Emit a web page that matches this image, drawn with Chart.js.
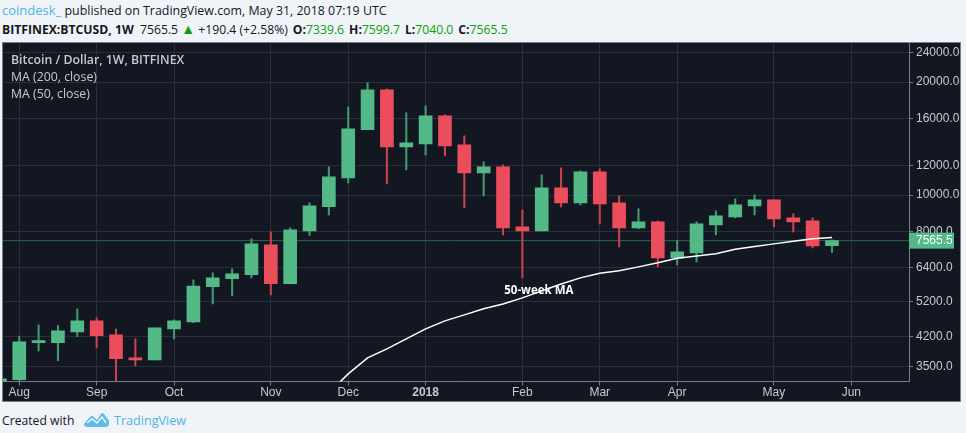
<!DOCTYPE html>
<html>
<head>
<meta charset="utf-8">
<title>BTCUSD 1W</title>
<script src="https://cdn.jsdelivr.net/npm/chart.js@4"></script>
<style>
    html, body { margin: 0; padding: 0; background: #f0f3f8; overflow: hidden; }
    body { width: 966px; height: 433px; position: relative; font-family: "Open Sans", sans-serif; color: #131722; }
    .line { position: absolute; left: 2px; white-space: nowrap; font-size: 12.2px; line-height: 17px; }
    .up { color: #0aa00a; }
    .blue { color: #4cb3e6; }
    #frame { position: absolute; left: 2px; top: 42px; width: 957px; height: 358px; border: 1px solid #7b7e88; background: #131722; }
    #chart { display: block; }
    .legend { position: absolute; left: 8px; color: #c5cbce; font-size: 12.3px; white-space: nowrap; }
    .gap { margin-left: 5px; }
</style>
</head>
<body>
<div class="line" style="top:2px;font-size:12.4px"><span class="blue" style="font-size:13px">coindesk_</span> published on TradingView.com, May 31, 2018 07:19 UTC</div>
<div class="line" style="top:20px"><b>BITFINEX:BTCUSD, 1W</b> &nbsp;7565.5 <span class="up" style="font-size:14px">▲</span> +190.4 (+2.58%)<b class="gap">O:</b><span class="up">7339.6</span><b class="gap">H:</b><span class="up">7599.7</span><b class="gap">L:</b><span class="up">7040.0</span><b class="gap">C:</b><span class="up">7565.5</span></div>
<div id="frame">
    <canvas id="chart" width="957" height="358"></canvas>
    <div class="legend" style="top:8px;font-weight:600">Bitcoin / Dollar, 1W, BITFINEX</div>
    <div class="legend" style="top:25px">MA (200, close)</div>
    <div class="legend" style="top:42px">MA (50, close)</div>
</div>
<div class="line" style="top:412px">Created with</div>
<svg style="position:absolute;left:84px;top:411px" width="25" height="17" viewBox="0 0 25 17">
    <path d="M0 13 L6 6 Q8 4 10 6 L13 9 L17 3 Q18 1 20 3 L25 10 L25 13 Q25 16 21 16 L4 16 Q0 16 0 13 Z" fill="#5cbce9"/>
    <path d="M3 12 L8 8 L13 12 L18 6 L22 12" fill="none" stroke="#f0f3f8" stroke-width="1.5"/>
</svg>
<div class="line blue" style="top:412px;left:114px;font-size:12.6px">TradingView</div>

<script>
// Bougies hebdomadaires, la premiere est presque hors cadre a gauche
const opens = [3150, 3227, 4049, 4049, 4324, 4626, 4244, 3686, 3642, 4404, 4597, 5705, 5995, 6145, 7370, 5815, 8034, 9318, 11120, 14927, 19077, 13447, 13696, 16260, 13615, 11465, 11894, 8232, 8034, 10457, 9538, 11537, 9538, 8182, 8490, 6807, 7019, 8334, 8752, 9360, 9716, 8700, 8542, 7339.6];
const highs = [3241, 4216, 4514, 4492, 4980, 4711, 4404, 4142, 4431, 4654, 5948, 6209, 6364, 7649, 7985, 8182, 9538, 11894, 17180, 19895, 19195, 16566, 17280, 16360, 14390, 12268, 12040, 9138, 11330, 11820, 11608, 11750, 9955, 9194, 8542, 7556, 8490, 9082, 9775, 10020, 9716, 8920, 8700, 7599.7];
const lows = [3100, 3207, 3848, 3626, 4200, 3920, 3207, 3512, 3642, 4142, 4578, 5133, 5390, 6021, 5424, 5800, 7810, 8862, 10783, 14927, 10716, 11679, 12800, 12720, 9250, 9950, 7836, 6021, 8034, 9304, 9420, 8385, 7280, 8132, 6441, 6520, 6643, 7836, 8700, 8862, 8232, 7985, 7235, 7040];
const closes = [3241, 4067, 4099, 4350, 4626, 4226, 3671, 3642, 4431, 4626, 5728, 6021, 6170, 7416, 5815, 8083, 9360, 11186, 15018, 19077, 13447, 13780, 16260, 13530, 11465, 11894, 8182, 8034, 10457, 9538, 11537, 9478, 8182, 8490, 6807, 7063, 8385, 8805, 9420, 9716, 8648, 8490, 7325, 7565.5];

// Moyenne mobile 50 semaines (commence a la semaine 16)
const maWeeks = [16, 17, 18, 19, 20, 21, 22, 23, 24, 25, 26, 27, 28, 29, 30, 31, 32, 33, 34, 35, 36, 37, 38, 39, 40, 41, 42];
const ma50 = [2975, 3342, 3686, 3896, 4142, 4404, 4626, 4800, 4980, 5133, 5326, 5561, 5800, 6021, 6190, 6286, 6441, 6602, 6787, 6890, 6978, 7172, 7295, 7416, 7532, 7649, 7710];

const priceTicks = [24000, 20000, 16000, 12000, 10000, 8000, 6400, 5200, 4200, 3500];
const monthTicks = [0, 4, 8, 13, 17, 21, 26, 30, 34, 39, 43];
const monthLabels = ['Aug', 'Sep', 'Oct', 'Nov', 'Dec', '2018', 'Feb', 'Mar', 'Apr', 'May', 'Jun'];
const lastPrice = 7565.5;

const green = '#53b987';
const red = '#eb4d5c';
const textColor = '#c5cbce';
const gridColor = '#2a2e39';

function candleColor(i) {
    return closes[i] >= opens[i] ? green : red;
}

// Etiquette du dernier prix et annotation de la moyenne mobile
const overlayPlugin = {
    id: 'overlay',
    afterDraw(chart) {
        const c = chart.ctx;
        const y = chart.scales.y.getPixelForValue(lastPrice);
        const right = chart.chartArea.right;
        c.save();
        c.fillStyle = green;
        c.fillRect(right, y - 8, 45, 16);
        c.fillStyle = '#ffffff';
        c.font = '12px "Liberation Sans"';
        c.textBaseline = 'middle';
        c.fillText('7565.5', right + 7, y + 0.5);
        c.font = 'bold 11.5px "Open Sans"';
        c.textAlign = 'center';
        c.fillText('50-week MA', chart.scales.x.getPixelForValue(26.85), chart.scales.y.getPixelForValue(5561));
        c.restore();
    }
};

new Chart(document.getElementById('chart'), {
    type: 'bar',
    data: {
        datasets: [
            {
                label: 'Last price',
                type: 'line',
                data: [{ x: -1, y: lastPrice }, { x: 46, y: lastPrice }],
                borderColor: '#2a6650',
                borderWidth: 1,
                pointRadius: 0,
                order: 4
            },
            {
                label: 'Wicks',
                data: lows.map((v, i) => ({ x: i - 1, y: [v, highs[i]] })),
                backgroundColor: opens.map((v, i) => closes[i] >= v ? '#429a70' : '#c9424f'),
                barThickness: 1.4,
                grouped: false,
                order: 3
            },
            {
                label: 'Candles',
                data: opens.map((v, i) => ({ x: i - 1, y: [v, closes[i]] })),
                backgroundColor: opens.map((v, i) => candleColor(i)),
                borderWidth: 0,
                barThickness: 13,
                grouped: false,
                order: 2
            },
            {
                label: 'MA (50, close)',
                type: 'line',
                data: maWeeks.map((w, i) => ({ x: w, y: ma50[i] })),
                borderColor: '#ffffff',
                borderWidth: 1.5,
                pointRadius: 0,
                tension: 0,
                order: 1
            }
        ]
    },
    options: {
        responsive: false,
        animation: false,
        layout: { padding: 0 },
        plugins: {
            legend: { display: false },
            tooltip: { enabled: false }
        },
        scales: {
            x: {
                type: 'linear',
                offset: false,
                min: -0.84,
                max: 45.98,
                afterFit(scale) {
                    scale.height = 19.5;
                    scale.paddingLeft = 0;
                    scale.paddingRight = 0;
                },
                afterBuildTicks(scale) { scale.ticks = monthTicks.map(v => ({ value: v })); },
                grid: { offset: false, color: gridColor, tickColor: '#7b7e88', tickLength: 4 },
                border: { color: '#7b7e88' },
                ticks: {
                    autoSkip: false,
                    maxRotation: 0,
                    padding: 0,
                    color: textColor,
                    font: ctx => ({
                        family: '"Liberation Sans"',
                        size: 12,
                        weight: ctx.tick && ctx.tick.value === 21 ? 'bold' : 'normal'
                    }),
                    callback: v => monthLabels[monthTicks.indexOf(v)]
                }
            },
            y: {
                type: 'logarithmic',
                position: 'right',
                min: 3190,
                max: 25408,
                afterFit(scale) {
                    scale.width = 51;
                    scale.paddingTop = 0;
                    scale.paddingBottom = 0;
                },
                afterBuildTicks(scale) { scale.ticks = priceTicks.map(v => ({ value: v })); },
                grid: { color: gridColor, tickColor: '#7b7e88', tickLength: 4 },
                border: { color: '#7b7e88' },
                ticks: {
                    autoSkip: false,
                    padding: 3,
                    color: textColor,
                    font: { family: '"Liberation Sans"', size: 12 },
                    callback: v => Number(v).toFixed(1)
                }
            }
        }
    },
    plugins: [overlayPlugin]
});
</script>
</body>
</html>
